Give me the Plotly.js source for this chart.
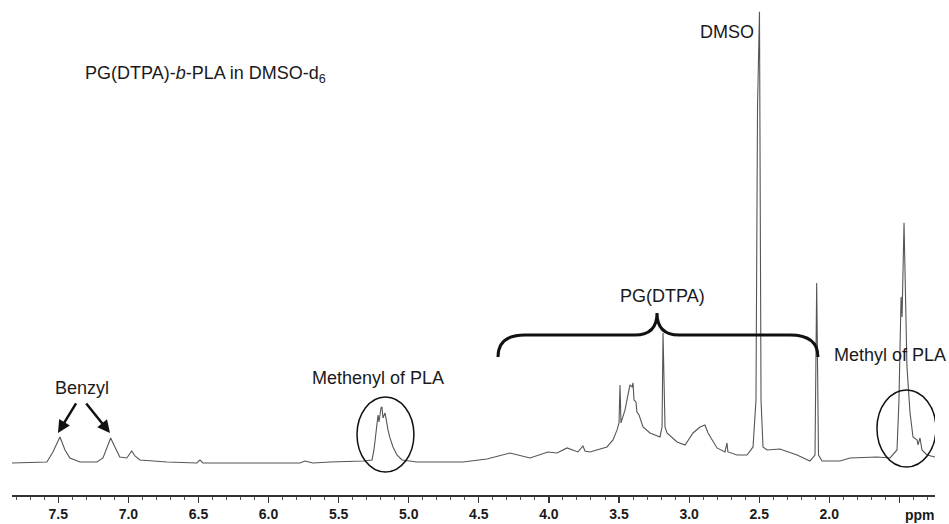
<!DOCTYPE html>
<html>
<head>
<meta charset="utf-8">
<script src="https://cdn.plot.ly/plotly-3.0.1.min.js"></script>
<style>html,body{margin:0;padding:0;background:#fff;}#chart{width:949px;height:524px;}</style>
</head>
<body>
<div id="chart"></div>
<script>
// Chemical shift (ppm) and relative intensity
const ppm = [7.830,7.581,7.538,7.488,7.452,7.417,7.345,7.224,7.181,7.153,7.126,7.096,7.061,7.011,6.976,6.953,6.917,6.725,6.511,6.489,6.468,5.776,5.740,5.683,5.562,5.326,5.262,5.248,5.234,5.219,5.212,5.198,5.191,5.184,5.169,5.155,5.148,5.134,5.112,5.084,5.048,4.941,4.613,4.442,4.278,4.135,4.007,3.942,3.871,3.793,3.757,3.743,3.707,3.586,3.543,3.514,3.500,3.493,3.486,3.457,3.436,3.422,3.407,3.400,3.393,3.379,3.372,3.357,3.329,3.279,3.208,3.193,3.186,3.172,3.158,3.086,3.029,2.972,2.922,2.887,2.865,2.801,2.744,2.730,2.723,2.658,2.587,2.544,2.523,2.512,2.498,2.487,2.473,2.444,2.352,2.230,2.138,2.102,2.090,2.077,2.052,1.924,1.852,1.660,1.567,1.517,1.503,1.488,1.481,1.467,1.446,1.424,1.403,1.374,1.367,1.353,1.339,1.303,1.246];
const intensity = [0,0.22,2.44,5.76,2.88,1.11,0.22,0.22,1.11,3.33,5.54,3.55,1.33,1.11,2.66,1.55,0.67,0.22,0,0.67,0,0,0.44,0,0.22,0.44,0.67,2.88,7.32,10.64,9.09,12.20,12.42,9.98,11.09,8.43,7.32,5.54,3.55,1.77,0.67,0.22,0.22,0.89,2.22,1.11,2.44,2.22,3.33,2.44,3.77,2.66,2.44,3.55,5.10,7.32,8.87,17.29,8.87,11.75,15.52,17.29,16.85,17.74,13.97,13.53,11.31,10.64,7.98,6.65,5.76,7.98,28.82,7.98,6.65,4.66,3.99,6.65,7.98,8.43,6.65,3.33,2.44,4.43,2.44,1.77,1.77,3.55,13.97,78.9,100,13.97,3.55,2.88,3.10,1.77,0.44,1.77,39.91,1.77,0.44,0.44,1.11,1.33,1.11,2.88,13.97,36.81,32.37,53.22,21.29,11.09,5.76,5.10,3.99,5.54,2.88,1.77,1.33];
const tickVals = [7.5,7.0,6.5,6.0,5.5,5.0,4.5,4.0,3.5,3.0,2.5,2.0,1.5];
const tickText = ['7.5','7.0','6.5','6.0','5.5','5.0','4.5','4.0','3.5','3.0','2.5','2.0',''];

const FONT = 'Liberation Sans, Arial, sans-serif';
const TXT = '#1a1a1a';

const trace = {
  x: ppm, y: intensity, type: 'scatter', mode: 'lines',
  line: {color: '#555555', width: 1.1}, hoverinfo: 'skip'
};

function ann(x, y, text, extra) {
  return Object.assign({x: x, y: y, xref: 'x', yref: 'y', text: text, showarrow: false,
    font: {family: FONT, size: 18, color: TXT}}, extra || {});
}

const layout = {
  width: 949, height: 524,
  margin: {l: 12, r: 14, t: 10, b: 29},
  paper_bgcolor: '#fff', plot_bgcolor: '#fff',
  showlegend: false,
  xaxis: {
    range: [7.830, 1.246], showgrid: false, zeroline: false,
    showline: true, linecolor: '#333', linewidth: 1.5,
    tickmode: 'array', tickvals: tickVals, ticktext: tickText,
    ticks: 'outside', ticklen: 6, tickwidth: 1.2, tickcolor: '#333',
    ticklabelstandoff: 0,
    tickfont: {family: FONT, size: 14, color: TXT, weight: 'bold'},
    minor: {tickmode: 'linear', tick0: 0, dtick: 0.1, ticks: 'outside', ticklen: 3, tickwidth: 1, tickcolor: '#555', showgrid: false}
  },
  yaxis: {range: [-7.1, 100.4], visible: false, showgrid: false, zeroline: false},
  annotations: [
    ann(7.324, 86.0, 'PG(DTPA)-<i>b</i>-PLA in DMSO-d<sub>6</sub>', {xanchor: 'left'}),
    ann(2.730, 95.6, 'DMSO'),
    ann(7.331, 16.6, 'Benzyl'),
    ann(5.219, 18.8, 'Methenyl of PLA'),
    ann(3.193, 37.0, 'PG(DTPA)'),
    ann(1.567, 23.9, 'Methyl of PLA'),
    ann(1.353, -0.0412, 'ppm', {yref: 'paper', yanchor: 'middle', font: {family: FONT, size: 14, color: TXT, weight: 'bold'}}),
    {x: 7.502, y: 6.65, xref: 'x', yref: 'y', text: '', showarrow: true, ax: 19, ay: -31,
      arrowhead: 2, arrowsize: 1, arrowwidth: 2.5, arrowcolor: '#111'},
    {x: 7.131, y: 6.65, xref: 'x', yref: 'y', text: '', showarrow: true, ax: -25, ay: -31,
      arrowhead: 2, arrowsize: 1, arrowwidth: 2.5, arrowcolor: '#111'}
  ],
  shapes: [
    {type: 'path', xref: 'x', yref: 'y',
     path: 'M 4.363,23.5 Q 4.363,28.38 4.171,28.38 L 3.386,28.38 Q 3.229,28.38 3.229,33.26 Q 3.229,28.38 3.072,28.38 L 2.280,28.38 Q 2.081,28.38 2.081,23.5',
     line: {color: '#111', width: 3}},
    {type: 'circle', xref: 'x', yref: 'y', x0: 5.369, x1: 4.963, y0: -2.0, y1: 14.63,
     line: {color: '#111', width: 1.5}},
    {type: 'circle', xref: 'x', yref: 'y', x0: 1.660, x1: 1.239, y0: -0.89, y1: 16.19,
     line: {color: '#111', width: 1.5}}
  ]
};

Plotly.newPlot('chart', [trace], layout, {staticPlot: true, displayModeBar: false});
</script>
</body>
</html>
